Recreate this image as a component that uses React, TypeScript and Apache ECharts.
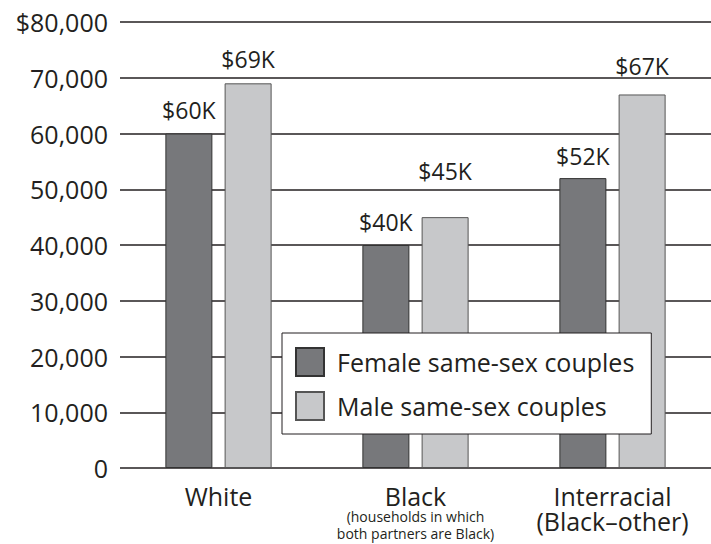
import React, { useEffect, useRef } from "react";
import * as echarts from "echarts";

const categories = ["White", "Black", "Interracial"];
const femaleValues = [60000, 40000, 52000];
const maleValues = [69000, 45000, 67000];
const femaleLabels = ["$60K", "$40K", "$52K"];
const maleLabels = ["$69K", "$45K", "$67K"];
const yTickLabels: Record<number, string> = {
  0: "0",
  10000: "10,000",
  20000: "20,000",
  30000: "30,000",
  40000: "40,000",
  50000: "50,000",
  60000: "60,000",
  70000: "70,000",
  80000: "$80,000",
};
const femaleLabelDist = [12, 12, 11];
const maleLabelDist = [13, 35, 17];

const FONT = "'Open Sans', 'Noto Sans', sans-serif";
const INK = "#231f20";

export default function App() {
  const ref = useRef<HTMLDivElement>(null);
  useEffect(() => {
    if (!ref.current) return;
    const chart = echarts.init(ref.current, null, { renderer: "svg" });
    const option: any = {
      animation: false,
      textStyle: { fontFamily: FONT, color: INK },
      grid: { left: 120, right: -6, top: 22, bottom: 76, containLabel: false },
      legend: {
        orient: "vertical",
        left: 282,
        top: 333,
        itemWidth: 28,
        itemHeight: 28,
        itemGap: 14,
        padding: [14, 17, 13, 13],
        backgroundColor: "#ffffff",
        borderColor: INK,
        borderWidth: 1,
        icon: "rect",
        textStyle: {
          fontFamily: FONT,
          fontSize: 25,
          lineHeight: 28,
          color: INK,
          padding: [0, 0, 0, 8],
        },
        data: ["Female same-sex couples", "Male same-sex couples"],
      },
      xAxis: {
        type: "category",
        data: categories,
        axisLine: { show: false },
        axisTick: { show: false },
        axisLabel: {
          margin: 15,
          interval: 0,
          formatter: (v: string) => {
            if (v === "Black")
              return "{a|Black}\n{b|(households in which}\n{b|both partners are Black)}";
            if (v === "Interracial") return "{a|Interracial}\n{a|(Black–other)}";
            return "{a|" + v + "}";
          },
          rich: {
            a: { fontFamily: FONT, fontSize: 25, lineHeight: 25, color: INK },
            b: { fontFamily: FONT, fontSize: 14, lineHeight: 17, color: INK },
          },
        },
      },
      yAxis: {
        type: "value",
        min: 0,
        max: 80000,
        interval: 10000,
        axisLine: { show: false },
        axisTick: { show: false },
        axisLabel: {
          margin: 12,
          fontFamily: FONT,
          fontSize: 25,
          color: INK,
          formatter: (v: number) => yTickLabels[v] ?? String(v),
        },
        splitLine: { lineStyle: { color: INK, width: 1.5 } },
      },
      series: [
        {
          name: "Female same-sex couples",
          type: "bar",
          barWidth: 47,
          barGap: "26%",
          itemStyle: { color: "#77787b", borderColor: "#333333", borderWidth: 1 },
          data: femaleValues.map((v, i) => ({
            value: v,
            label: {
              show: true,
              position: "top",
              distance: femaleLabelDist[i],
              formatter: femaleLabels[i],
              fontFamily: FONT,
              fontSize: 23,
              color: INK,
            },
          })),
        },
        {
          name: "Male same-sex couples",
          type: "bar",
          barWidth: 47,
          itemStyle: { color: "#c7c8ca", borderColor: "#555555", borderWidth: 1 },
          data: maleValues.map((v, i) => ({
            value: v,
            label: {
              show: true,
              position: "top",
              distance: maleLabelDist[i],
              formatter: maleLabels[i],
              fontFamily: FONT,
              fontSize: 23,
              color: INK,
            },
          })),
        },
      ],
    };
    chart.setOption(option);
    return () => chart.dispose();
  }, []);
  return (
    <div
      ref={ref}
      style={{ position: "absolute", left: 0, top: 0, width: 711, height: 544 }}
    />
  );
}
